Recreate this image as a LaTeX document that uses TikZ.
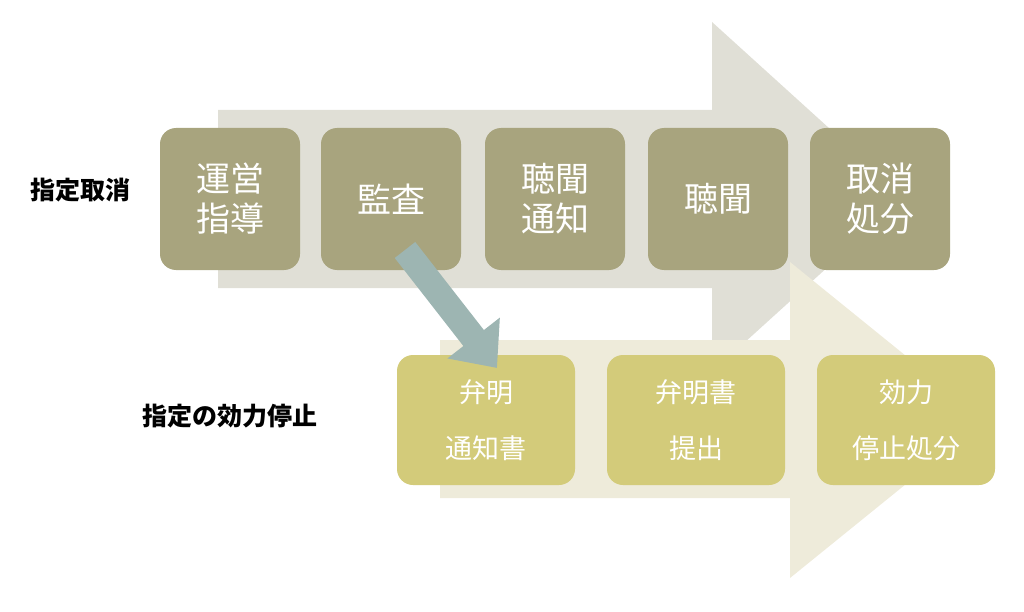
\documentclass[tikz,border=0pt]{standalone}
\usepackage{fontspec}
\setmainfont{Noto Sans CJK JP}
\usetikzlibrary{arrows.meta}
\definecolor{bigA}{HTML}{E0DFD6}
\definecolor{bigB}{HTML}{EEEBDA}
\definecolor{boxA}{HTML}{A8A47E}
\definecolor{boxB}{HTML}{D3CB7A}
\definecolor{teal}{HTML}{9DB5B2}
\begin{document}
\begin{tikzpicture}[x=1pt,y=-1pt,
 topbox/.style={fill=boxA,rounded corners=16pt,minimum width=140pt,minimum height=142pt,text=white,font=\fontsize{34}{40}\selectfont,align=center,inner sep=0pt},
 botbox/.style={fill=boxB,rounded corners=16pt,minimum width=178pt,minimum height=130pt,text=white,font=\fontsize{27}{56}\selectfont,align=center,inner sep=0pt},
 lab/.style={font=\bfseries\fontsize{25}{30}\selectfont,text=black}]
\useasboundingbox (0,0) rectangle (1024,612);
\fill[bigA] (218,110) -- (712,110) -- (712,22) -- (905,197) -- (712,372) -- (712,288) -- (218,288) -- cycle;
\fill[bigB] (440,340) -- (790,340) -- (790,262) -- (985,420) -- (790,578) -- (790,498) -- (440,498) -- cycle;
\node[topbox] (a1) at (230,199) {運営\\指導};
\node[topbox] (a2) at (391,199) {監査};
\node[topbox] (a3) at (555,199) {聴聞\\通知};
\node[topbox] (a4) at (718,199) {聴聞};
\node[topbox] (a5) at (880,199) {取消\\処分};
\node[botbox] (b1) at (486,420) {弁明\\通知書};
\node[botbox] (b2) at (696,420) {弁明書\\提出};
\node[botbox] (b3) at (906,420) {効力\\停止処分};
\node[lab] (l1) at (80,190) {指定取消};
\node[lab] (l2) at (230,416) {指定の効力停止};
\coordinate (s) at (405,250);
\coordinate (e) at (497,368);
\draw[teal,line width=26pt,-{Triangle[length=38pt,width=64pt]}] (s) -- (e);
\end{tikzpicture}
\end{document}
